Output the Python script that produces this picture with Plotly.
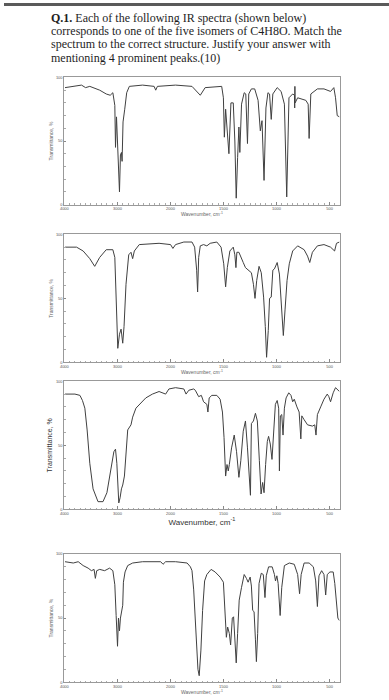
import plotly.graph_objects as go

# ---------------- data (wavenumber cm^-1, transmittance %) ----------------
s1_wn = [3988, 3770, 3677, 3600, 3521, 3334, 3211, 3136, 3086, 3049, 3036, 3017, 2998, 2974, 2961,
         2943, 2924, 2912, 2894, 2862, 2825, 2775, 2526, 2308, 2278, 2246, 1952, 1797, 1719, 1673,
         1517, 1501, 1492, 1480, 1464, 1449, 1430, 1408, 1393, 1380, 1367, 1355, 1346, 1330, 1305,
         1290, 1274, 1262, 1237, 1206, 1174, 1153, 1137, 1118, 1100, 1081, 1066, 1050, 1035, 994,
         957, 926, 904, 883, 848, 831, 829, 827, 825, 801, 724, 702, 693, 677, 615, 553, 491, 460,
         444, 428, 407]
s1_t = [92, 93, 94, 92, 93, 90, 87, 86, 88, 78, 45, 69, 52, 23, 10,
        39, 41, 34, 65, 75, 88, 93, 94, 93, 90, 93, 94, 93, 86, 92,
        93, 84, 53, 75, 55, 40, 80, 80, 50, 5, 37, 61, 41, 79, 88,
        87, 48, 87, 91, 91, 82, 58, 66, 19, 76, 88, 87, 67, 87, 92,
        89, 79, 6, 84, 87, 86, 76, 93, 80, 84, 82, 79, 52, 87, 91, 91, 89, 92,
        84, 70, 69]

s2_wn = [3988, 3770, 3646, 3521, 3428, 3334, 3211, 3086, 3049, 3024, 2993, 2961, 2931, 2900, 2875,
         2838, 2787, 2744, 2713, 2681, 2588, 2215, 1999, 1977, 1952, 1874, 1797, 1772, 1753, 1744,
         1734, 1719, 1688, 1657, 1626, 1563, 1523, 1498, 1480, 1464, 1440, 1408, 1393, 1383, 1374,
         1355, 1337, 1314, 1293, 1268, 1237, 1218, 1203, 1187, 1165, 1144, 1122, 1106, 1094, 1078,
         1066, 1050, 1035, 1020, 994, 973, 951, 936, 920, 901, 880, 848, 801, 740, 708, 687, 662,
         615, 553, 491, 453, 435, 407]
s2_t = [90, 90, 87, 81, 75, 82, 88, 88, 82, 41, 11, 22, 26, 15, 28,
        61, 84, 86, 81, 87, 92, 93, 92, 89, 92, 94, 94, 90, 72, 55,
        82, 91, 92, 91, 93, 94, 90, 77, 59, 74, 87, 90, 84, 74, 86,
        86, 83, 78, 74, 72, 70, 61, 50, 64, 75, 70, 51, 28, 4, 25,
        50, 51, 72, 73, 78, 69, 43, 21, 41, 64, 77, 87, 91, 88, 83, 78, 86,
        91, 92, 90, 87, 93, 94]

s3_wn = [3988, 3801, 3707, 3659, 3614, 3571, 3521, 3459, 3366, 3272, 3198, 3117, 3067, 3036, 3011,
         2974, 2950, 2924, 2900, 2868, 2838, 2806, 2744, 2713, 2651, 2558, 2465, 2340, 2215, 2091,
         2029, 1952, 1874, 1853, 1827, 1781, 1766, 1734, 1709, 1688, 1657, 1647, 1635, 1610, 1563,
         1532, 1510, 1495, 1480, 1467, 1455, 1445, 1424, 1399, 1377, 1355, 1337, 1314, 1293, 1274,
         1256, 1246, 1237, 1218, 1199, 1181, 1162, 1146, 1131, 1118, 1103, 1087, 1075, 1059, 1043,
         1027, 1011, 994, 980, 973, 964, 951, 939, 926, 910, 885, 864, 848, 833, 808, 787, 771, 762,
         740, 708, 662, 640, 628, 615, 584, 553, 522, 507, 491, 466, 444, 422, 407]
s3_t = [90, 90, 89, 85, 79, 62, 36, 16, 6, 6, 13, 31, 45, 47, 36,
        5, 9, 16, 19, 26, 44, 62, 66, 72, 79, 83, 87, 90, 92, 90,
        94, 95, 94, 90, 93, 94, 93, 88, 89, 84, 82, 76, 87, 89, 89,
        86, 76, 56, 26, 35, 30, 35, 48, 58, 45, 25, 38, 61, 69, 48,
        17, 11, 67, 69, 75, 69, 38, 12, 21, 13, 35, 53, 57, 51, 39,
        66, 82, 85, 79, 30, 73, 74, 58, 79, 87, 91, 89, 84, 86, 80, 76, 55, 73,
        70, 66, 65, 66, 58, 74, 80, 86, 90, 88, 84, 91, 95, 93, 92]

s4_wn = [3988, 3832, 3739, 3646, 3552, 3490, 3440, 3416, 3390, 3334, 3241, 3148, 3086, 3049, 3024,
         2998, 2980, 2961, 2943, 2918, 2900, 2887, 2856, 2806, 2713, 2526, 2184, 2140, 2091, 1952,
         1843, 1812, 1797, 1781, 1759, 1741, 1729, 1713, 1697, 1678, 1657, 1617, 1579, 1532, 1501,
         1486, 1473, 1461, 1445, 1433, 1417, 1405, 1393, 1380, 1367, 1352, 1330, 1305, 1284, 1268,
         1249, 1237, 1225, 1212, 1199, 1190, 1178, 1165, 1144, 1125, 1109, 1097, 1075, 1041, 1020,
         1010, 997, 985, 966, 951, 926, 880, 833, 801, 783, 768, 740, 693, 653, 631, 615, 600, 575,
         553, 537, 522, 497, 466, 451, 435, 422, 407]
s4_t = [94, 93, 94, 91, 89, 87, 88, 81, 87, 88, 87, 89, 87, 76, 52,
        28, 50, 40, 50, 56, 60, 78, 86, 91, 93, 94, 94, 92, 94, 94,
        93, 90, 87, 72, 35, 10, 5, 25, 56, 79, 84, 88, 86, 82, 78,
        56, 35, 43, 38, 29, 50, 51, 30, 15, 38, 64, 74, 84, 81, 78,
        82, 75, 56, 55, 33, 16, 38, 77, 85, 84, 66, 83, 90, 90, 84,
        79, 83, 77, 52, 74, 91, 93, 92, 84, 69, 84, 93, 93, 90, 79, 59, 83, 87,
        84, 68, 84, 86, 86, 77, 59, 50, 48]

tick_labels = ["4000", "3000", "2000", "1500", "1000", "500"]
tick_values_wn = [4000, 3000, 2000, 1500, 1000, 500]
y_ticks = [0, 50, 100]
x_title = "Wavenumber, cm<sup>-1</sup>"
y_title = "Transmittance, %"
question_lines = ["<b>Q.1.</b> Each of the following IR spectra (shown below)",
                  "corresponds to one of the five isomers of C4H8O. Match the",
                  "spectrum to the correct structure. Justify your answer with",
                  "mentioning 4 prominent peaks.(10)"]


def wn_to_pos(w):
    # SDBS-style axis: 4000-2000 at 1000 cm-1 per division, 2000-400 at 500 cm-1 per division
    return (4000 - w) / 1000.0 if w >= 2000 else 2 + (2000 - w) / 500.0


W, H = 389, 700
spectra = [(s1_wn, s1_t), (s2_wn, s2_t), (s3_wn, s3_t), (s4_wn, s4_t)]
# pixel boxes (top, bottom)
boxes = [(75, 203), (233, 362), (381, 510), (555, 684)]
x_left, x_right = 61, 339

fig = go.Figure()
layout = dict(width=W, height=H, margin=dict(l=0, r=0, t=0, b=0),
              paper_bgcolor="white", plot_bgcolor="white", showlegend=False)
annotations = []
for i, ((wn, t), (top, bot)) in enumerate(zip(spectra, boxes)):
    n = "" if i == 0 else str(i + 1)
    big = (i == 2)
    fig.add_trace(go.Scatter(x=[wn_to_pos(w) for w in wn], y=t, mode="lines",
                             line=dict(color="#404040", width=1),
                             xaxis="x" + n, yaxis="y" + n, hoverinfo="skip"))
    layout["xaxis" + n] = dict(
        domain=[x_left / W, x_right / W], anchor="y" + n, range=[0, 5.187],
        tickmode="array", tickvals=[wn_to_pos(v) for v in tick_values_wn], ticktext=tick_labels,
        ticks="inside", ticklen=3, tickcolor="#888", tickfont=dict(size=4, color="#555", family="Arial"),
        showline=True, linecolor="#999", linewidth=1, mirror=True, showgrid=False, zeroline=False,
        minor=dict(dtick=0.1, tick0=0, ticks="inside", ticklen=1.5, tickcolor="#aaa", showgrid=False),
        title=dict(text=x_title, standoff=1 if not big else 2,
                   font=dict(size=8 if big else 5, color="#333" if big else "#666", family="Arial")),
        fixedrange=True)
    layout["yaxis" + n] = dict(
        domain=[1 - bot / H, 1 - top / H], anchor="x" + n, range=[0, 100],
        tickvals=y_ticks, ticks="inside", ticklen=2, tickcolor="#888",
        tickfont=dict(size=4, color="#555", family="Arial"),
        showline=True, linecolor="#999", linewidth=1, mirror=True, showgrid=False, zeroline=False,
        minor=dict(dtick=10, ticks="inside", ticklen=1.5, tickcolor="#aaa", showgrid=False),
        title=dict(text=y_title, standoff=2,
                   font=dict(size=7 if big else 5, color="#333" if big else "#666", family="Arial")),
        fixedrange=True)

line_y = [15, 28.3, 41.7, 55]
for txt, ly in zip(question_lines, line_y):
    annotations.append(dict(text=txt, x=45 / W, y=1 - ly / H, xref="paper", yref="paper",
                            xanchor="left", yanchor="middle", align="left", showarrow=False,
                            font=dict(size=12, color="#1e1e1e", family="Liberation Serif")))
layout["annotations"] = annotations
layout["shapes"] = [dict(type="rect", xref="paper", yref="paper", x0=0, x1=1,
                         y0=1 - 3 / H, y1=1, fillcolor="#5a5a5a", line=dict(width=0))]
fig.update_layout(**layout)
fig.write_html("out.html")
